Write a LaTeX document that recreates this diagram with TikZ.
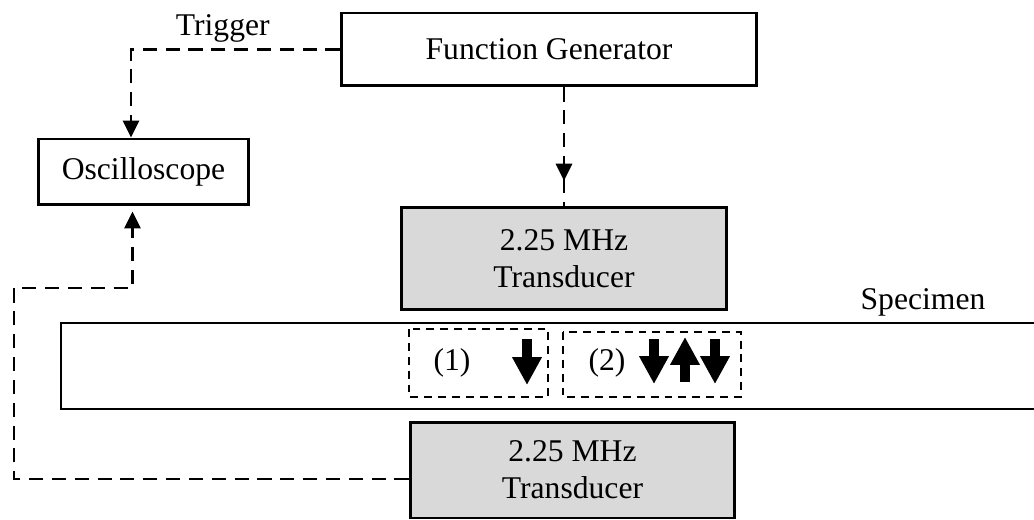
\documentclass[tikz,border=0pt]{standalone}
\usepackage{fontspec}
\setmainfont{Liberation Serif}
\usetikzlibrary{arrows.meta,decorations.markings}
\tikzset{
  box/.style   = {draw, line width=1.7pt, align=center, inner sep=3pt,
                  font=\fontsize{18}{21}\selectfont},
  graybox/.style = {box, fill=black!15},
  sig/.style   = {line width=1.6pt, dash pattern=on 8pt off 5pt,
                  -{Triangle[width=0.32cm,length=0.34cm]}},
  zone/.style  = {line width=1pt, dash pattern=on 4.5pt off 3.4pt},
  wave/.style  = {line width=0.2cm, -{Triangle[width=0.56cm,length=0.56cm]}},
  lbl/.style   = {font=\fontsize{18}{21}\selectfont, inner sep=1pt},
}

\begin{document}
\begin{tikzpicture}[x=0.02cm, y=-0.02cm]
  \useasboundingbox (0,0) rectangle (1034,520);

  % instruments
  \node[box, minimum width=8.32cm, minimum height=1.46cm] (fg) at (549,49.5) {Function Generator};
  \node[box, minimum width=4.22cm, minimum height=1.32cm] (osc) at (143.5,172) {Oscilloscope};
  \node[graybox, minimum width=6.52cm, minimum height=2.06cm] (tx) at (564,258.5) {2.25 MHz\\Transducer};
  \node[graybox, minimum width=6.5cm, minimum height=1.92cm] (rx) at (572.5,470) {2.25 MHz\\Transducer};

  % specimen plate (runs off to the right)
  \draw[line width=1.7pt] (1040,323) -| (61,409) -- (1040,409);
  \node[lbl] (spec) at (923,302) {Specimen};

  % echo zones
  \draw[zone] (409,329) rectangle (548,397);
  \draw[zone] (563,332) rectangle (741,397);
  \node[lbl] (z1) at (452,363) {(1)};
  \node[lbl] (z2) at (607,363) {(2)};
  \draw[wave] (527,339) -- (527,385);
  \draw[wave] (654,339) -- (654,384);
  \draw[wave] (685,382) -- (685,337);
  \draw[wave] (715,339) -- (715,384);

  % signal lines
  \draw[sig] (fg.west) -| node[lbl, pos=0.28, above=2pt] (trig) {Trigger} ([xshift=-0.25cm]osc.north);
  \draw[line width=1.6pt, dash pattern=on 8pt off 5pt,
        postaction={decorate},
        decoration={markings, mark=at position 0.79 with {\arrow{Triangle[width=0.32cm,length=0.34cm]}}}]
    (fg.south -| tx.north) -- (tx.north);
  \coordinate (bend) at (14,288);
  \draw[sig, shorten >=0.1cm] ([yshift=-0.18cm]rx.west) -| (bend) -| ([xshift=-0.22cm]osc.south);
\end{tikzpicture}
\end{document}
